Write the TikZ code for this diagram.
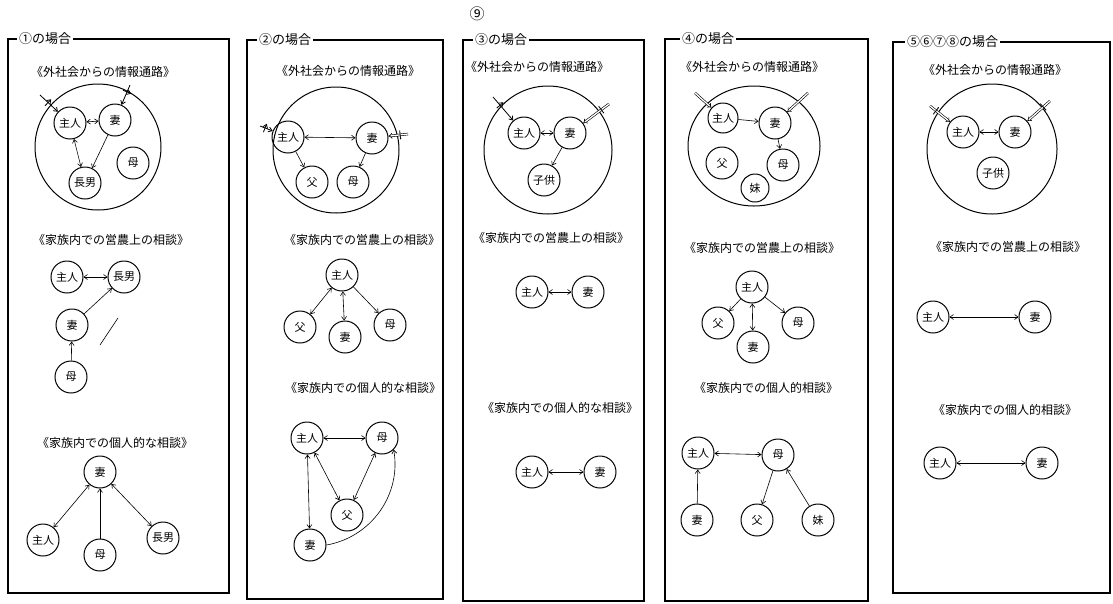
\documentclass[tikz,border=0pt]{standalone}
\usepackage{fontspec}
\newfontfamily\cjk{Noto Sans CJK JP}
\usetikzlibrary{positioning, arrows.meta, shapes.geometric, decorations.markings}

\begin{document}
\begin{tikzpicture}[
    x=1pt, y=-1pt,
    >={Straight Barb[length=3.5pt, width=5pt]},
    panel/.style={draw, line width=1.3pt},
    title/.style={fill=white, anchor=west, inner xsep=2pt, inner ysep=1pt, font=\cjk\fontsize{13}{13}\selectfont},
    heading/.style={font=\cjk\fontsize{12}{12}\selectfont},
    group/.style={circle, draw, line width=1pt, inner sep=0pt},
    person/.style={circle, draw, line width=1pt, minimum size=32pt, inner sep=0pt, font=\cjk\fontsize{11}{11}\selectfont},
    arrow/.style={semithick},
    ext/.style={thick, ->},
    extd/.style={double, double distance=1.3pt, semithick, -{Implies}},
    tick/.style={postaction={decorate, decoration={markings, mark=at position #1 with {\draw[thick] (0,-4.5pt) -- (0,4.5pt);}}}}
  ]
    \useasboundingbox (0,0) rectangle (1113,603);
    \node[font=\cjk\fontsize{15}{15}\selectfont] (num) at (477,14) {⑨};

    % panel 1
    \draw[panel] (8,39) rectangle (229,593);
    \node[title] (t1) at (17,39) {①の場合};
    \node[heading] (h1a) at (103,72) {《外社会からの情報通路》};
    \node[group, minimum size=126pt] (g1) at (98,147) {};
    \node[person] (a1m) at (70,123) {主人};
    \node[person] (a1w) at (115,120) {妻};
    \node[person] (a1s) at (85,183) {長男};
    \node[person] (a1mo) at (133,163) {母};
    \coordinate (e1l) at (40,95);
    \coordinate (e1r) at (130,85);
    \draw[arrow, <->] (a1m) -- (a1w);
    \draw[arrow, <->] (a1m) -- (a1s);
    \draw[arrow, ->] (a1w) -- (a1s);
    \draw[ext, tick=0.45] (e1l) -- (a1m);
    \draw[ext, tick=0.35] (e1r) -- (a1w);

    \node[heading] (h1b) at (111,240) {《家族内での営農上の相談》};
    \node[person] (b1m) at (67,277) {主人};
    \node[person] (b1s) at (124,277) {長男};
    \node[person] (b1w) at (72,325) {妻};
    \node[person] (b1mo) at (71,377) {母};
    \draw[arrow, <->] (b1m) -- (b1s);
    \draw[arrow, ->] (b1w) -- (b1s);
    \draw[arrow, ->] (b1mo) -- (b1w);
    \draw[semithick] (100,345) -- (118,318);

    \node[heading] (h1c) at (115,443) {《家族内での個人的な相談》};
    \node[person] (c1w) at (100,472) {妻};
    \node[person] (c1m) at (43,540) {主人};
    \node[person] (c1mo) at (100,555) {母};
    \node[person] (c1s) at (163,538) {長男};
    \draw[arrow, <->] (c1m) -- (c1w);
    \draw[arrow, ->] (c1mo) -- (c1w);
    \draw[arrow, <->] (c1s) -- (c1w);

    % panel 2
    \draw[panel] (247,40) rectangle (443,599);
    \node[title] (t2) at (257,40) {②の場合};
    \node[heading] (h2a) at (348,71) {《外社会からの情報通路》};
    \node[group, minimum size=126pt] (g2) at (336,150) {};
    \node[person] (a2m) at (288,137) {主人};
    \node[person] (a2w) at (372,138) {妻};
    \node[person] (a2fa) at (312,182) {父};
    \node[person] (a2mo) at (353,182) {母};
    \coordinate (e2l) at (260,126);
    \coordinate (e2r) at (408,134);
    \draw[arrow, <->] (a2m) -- (a2w);
    \draw[arrow, ->] (a2m) -- (a2fa);
    \draw[arrow, ->] (a2w) -- (a2mo);
    \draw[ext, tick=0.4] (e2l) -- (a2m);
    \draw[extd, tick=0.4] (e2r) -- (a2w);

    \node[heading] (h2b) at (362,240) {《家族内での営農上の相談》};
    \node[person] (b2m) at (342,275) {主人};
    \node[person] (b2fa) at (300,327) {父};
    \node[person] (b2w) at (345,337) {妻};
    \node[person] (b2mo) at (390,325) {母};
    \draw[arrow, <->] (b2m) -- (b2fa);
    \draw[arrow, <->] (b2m) -- (b2w);
    \draw[arrow, ->] (b2m) -- (b2mo);

    \node[heading, fill=white, inner xsep=0pt] (h2c) at (363,388) {《家族内での個人的な相談》};
    \node[person] (c2m) at (307,438) {主人};
    \node[person] (c2mo) at (382,438) {母};
    \node[person] (c2fa) at (347,515) {父};
    \node[person] (c2w) at (310,545) {妻};
    \draw[arrow, <->] (c2m) -- (c2mo);
    \draw[arrow, <->] (c2m) -- (c2fa);
    \draw[arrow, <->] (c2mo) -- (c2fa);
    \draw[arrow, <->] (c2m) -- (c2w);
    \draw[arrow, ->] (c2w.east) to[out=10, in=-80] (c2mo.south east);

    % panel 3
    \draw[panel] (463,40) rectangle (644,601);
    \node[title] (t3) at (473,40) {③の場合};
    \node[heading] (h3a) at (537,67) {《外社会からの情報通路》};
    \node[group, minimum size=128pt] (g3) at (548,150) {};
    \node[person] (a3m) at (524,133) {主人};
    \node[person] (a3w) at (570,133) {妻};
    \node[person] (a3ch) at (544,180) {子供};
    \coordinate (e3l) at (493,97);
    \coordinate (e3r) at (609,104);
    \draw[arrow, <->] (a3m) -- (a3w);
    \draw[arrow, ->] (a3w) -- (a3ch);
    \draw[ext, tick=0.35] (e3l) -- (a3m);
    \draw[extd, tick=0.3] (e3r) -- (a3w);

    \node[heading] (h3b) at (551,238) {《家族内での営農上の相談》};
    \node[person] (b3m) at (532,292) {主人};
    \node[person] (b3w) at (588,292) {妻};
    \draw[arrow, <->] (b3m) -- (b3w);

    \node[heading] (h3c) at (560,408) {《家族内での個人的な相談》};
    \node[person] (c3m) at (532,472) {主人};
    \node[person] (c3w) at (600,472) {妻};
    \draw[arrow, <->] (c3m) -- (c3w);

    % panel 4
    \draw[panel] (665,39) rectangle (868,601);
    \node[title] (t4) at (680,39) {④の場合\hspace{14pt}};
    \node[heading] (h4a) at (752,67) {《外社会からの情報通路》};
    \node[ellipse, draw, line width=1pt, minimum width=132pt, minimum height=120pt] (g4) at (754,146) {};
    \node[person, minimum size=30pt] (a4m) at (723,118) {主人};
    \node[person] (a4w) at (775,123) {妻};
    \node[person] (a4fa) at (722,163) {父};
    \node[person] (a4mo) at (783,165) {母};
    \node[person, minimum size=28pt] (a4si) at (755,188) {妹};
    \coordinate (e4l) at (695,93);
    \coordinate (e4r) at (808,93);
    \draw[arrow, ->] (a4m) -- (a4w);
    \draw[arrow, ->] (a4w) -- (a4mo);
    \draw[extd] (e4l) -- (a4m);
    \draw[extd] (e4r) -- (a4w);

    \node[heading] (h4b) at (762,248) {《家族内での営農上の相談》};
    \node[person] (b4m) at (752,287) {主人};
    \node[person] (b4fa) at (718,323) {父};
    \node[person] (b4w) at (753,347) {妻};
    \node[person] (b4mo) at (798,323) {母};
    \draw[arrow, ->] (b4m) -- (b4fa);
    \draw[arrow, <->] (b4m) -- (b4w);
    \draw[arrow, ->] (b4m) -- (b4mo);

    \node[heading] (h4c) at (766,388) {《家族内での個人的相談》};
    \node[person] (c4m) at (698,453) {主人};
    \node[person] (c4mo) at (778,455) {母};
    \node[person] (c4w) at (697,520) {妻};
    \node[person] (c4fa) at (757,520) {父};
    \node[person] (c4si) at (818,520) {妹};
    \draw[arrow, <->] (c4m) -- (c4mo);
    \draw[arrow, ->] (c4w) -- (c4m);
    \draw[arrow, ->] (c4mo) -- (c4fa);
    \draw[arrow, ->] (c4si) -- (c4mo);

    % panel 5
    \draw[panel] (893,42) rectangle (1110,593);
    \node[title] (t5) at (905,42) {⑤⑥⑦⑧の場合};
    \node[heading] (h5a) at (995,70) {《外社会からの情報通路》};
    \node[group, minimum size=130pt] (g5) at (992,149) {};
    \node[person] (a5m) at (963,132) {主人};
    \node[person] (a5w) at (1015,132) {妻};
    \node[person] (a5ch) at (993,173) {子供};
    \coordinate (e5l) at (930,106);
    \coordinate (e5r) at (1050,101);
    \draw[arrow, <->] (a5m) -- (a5w);
    \draw[extd, tick=0.3] (e5l) -- (a5m);
    \draw[extd, tick=0.3] (e5r) -- (a5w);

    \node[heading] (h5b) at (1008,247) {《家族内での営農上の相談》};
    \node[person] (b5m) at (933,317) {主人};
    \node[person] (b5w) at (1035,317) {妻};
    \draw[arrow, <->] (b5m) -- (b5w);

    \node[heading] (h5c) at (1005,410) {《家族内での個人的相談》};
    \node[person] (c5m) at (940,463) {主人};
    \node[person] (c5w) at (1042,463) {妻};
    \draw[arrow, <->] (c5m) -- (c5w);
  \end{tikzpicture}
\end{document}
